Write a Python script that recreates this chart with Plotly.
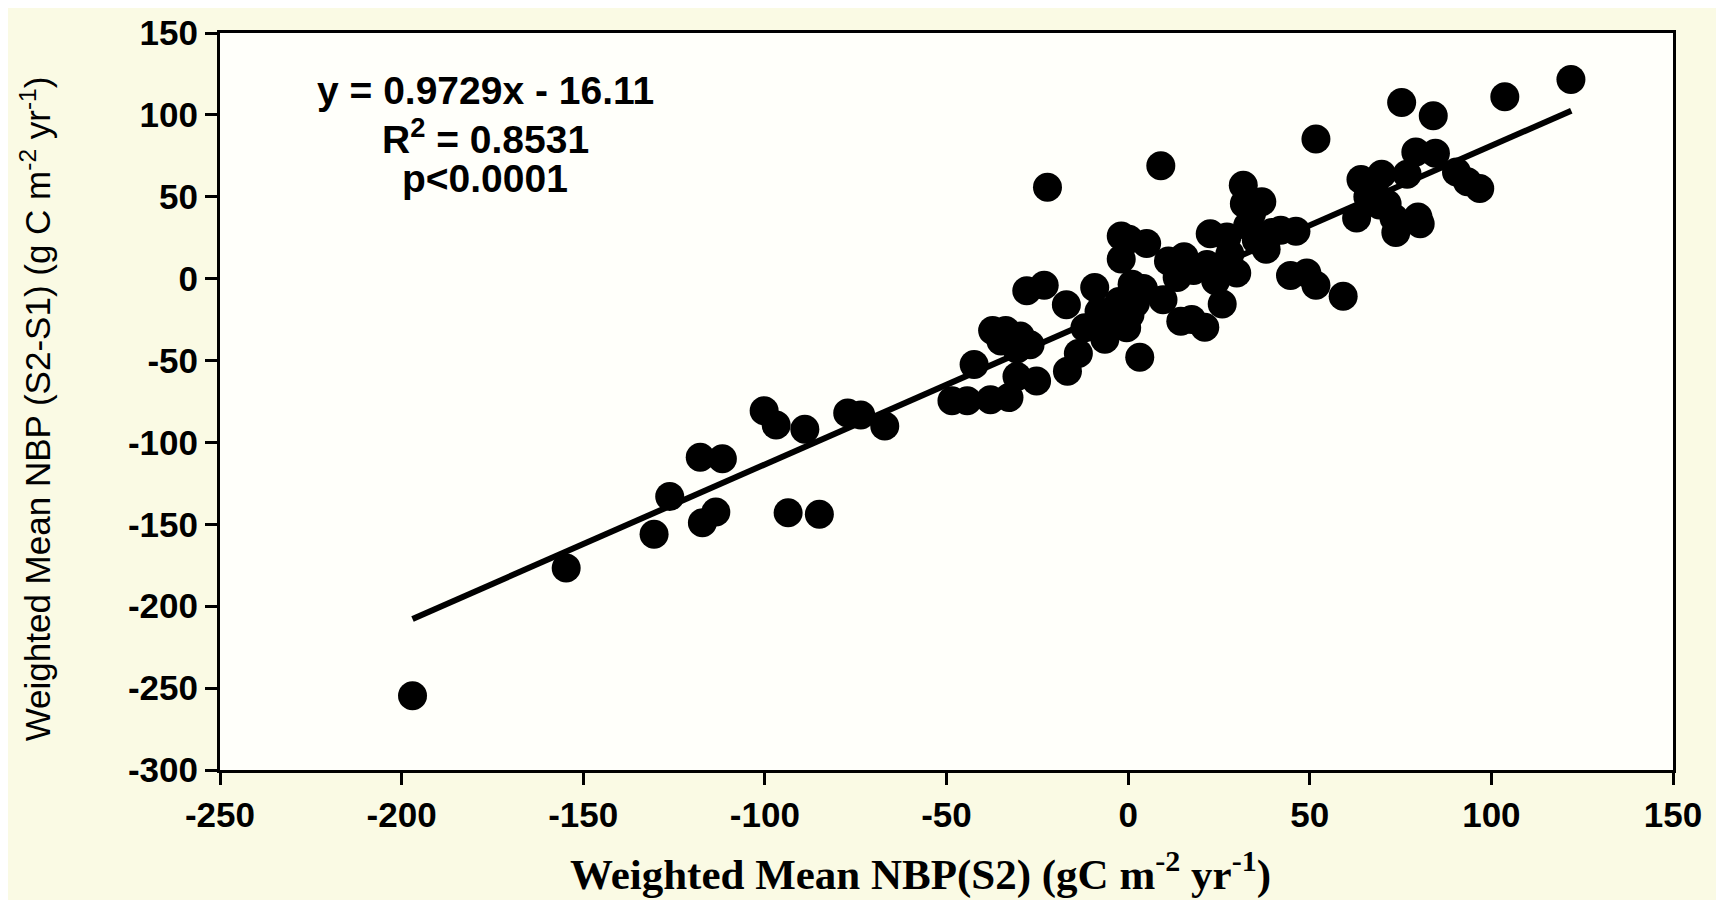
import plotly.graph_objects as go

# Weighted Mean NBP(S2)
nbp_s2 = [-197, -154.7, -130.5, -126.2, -117.8, -111.7, -117.2, -113.5, -100.2, -96.9,
          -93.6, -89, -85, -77.2, -73.6, -67, -48.5, -44.3, -42.4, -37.3,
          -33.7, -37.9, -32.8, -30.6, -30.6, -27, -29.7, -25.2, -27.9, -23.1,
          -22.2, -17, -16.7, -13.7, -11.9, -9.2, -7, -6.4, -4.6, -2.5,
          -1.9, -1.9, 0.2, 1.1, 0.5, -0.4, 3.2, 5.1, 4.2, 9,
          9.6, 11.1, 13.5, 14.5, 15.4, 17.5, 21.1, 21.7, 22.6, 24.1,
          25.9, 25.9, 27.2, 29.9, 31.7, 32, 32.9, 35.3, 36.8, 38,
          39.6, 42, 46.2, 44.7, 49.2, 51.7, 51.7, 59.2, 62.9, 64.1,
          67.7, 69.8, 69.2, 71.3, 73.2, 73.7, 75.3, 76.8, 79.2, 79.8,
          80.4, 84, 84.6, 90.4, 93.4, 96.8, 103.7, 121.9,
          -35, -8, 2, 18, 28, 34, 66]
# Weighted Mean NBP(S2-S1)
nbp_s2_s1 = [-254.7, -176.7, -156, -133, -109, -110, -149, -142.5, -80.6, -89.4,
             -143, -92, -143.8, -82, -83.3, -90, -74.6, -74.6, -52.4, -31.6,
             -31.6, -74, -72.6, -59.8, -43, -40.3, -35, -62.5, -7.4, -4,
             55.8, -16, -56.5, -45.7, -30, -5.4, -21.5, -37, -28, -14,
             26, 12, 24, -3.4, -22, -30, -48, 21.5, -6, 69,
             -12.8, 10.8, 0.7, -26, 13.4, -25, -29.6, 8.7, 27.5, -1.3,
             -15.5, 8, 25.5, 3.4, 57, 45.7, 32.3, 23.5, 47, 18,
             28.2, 29.6, 29, 2, 3.4, 85.3, -4, -10.8, 37, 60.5,
             55.8, 63.8, 45, 45.7, 37, 28.2, 107.5, 63.8, 77.3, 37.6,
             33.6, 99.5, 76.6, 65.2, 59.1, 55.1, 111, 121.6,
             -38, -20, -15, 5, 15, 40, 50]

slope = 0.9729
intercept = -16.11
fit_x = [-197, 122]
fit_y = [slope * v + intercept for v in fit_x]

x_ticks = [-250, -200, -150, -100, -50, 0, 50, 100, 150]
y_ticks = [150, 100, 50, 0, -50, -100, -150, -200, -250, -300]

stats_lines = ["y = 0.9729x - 16.11", "R<sup>2</sup> = 0.8531", "p<0.0001"]
stats_y = [115, 87, 61]

sans = "Liberation Sans, Arial, sans-serif"
serif = "Liberation Serif, Times New Roman, serif"

fig = go.Figure()
fig.add_trace(go.Scatter(
    x=nbp_s2, y=nbp_s2_s1, mode="markers",
    marker=dict(color="black", size=29, line=dict(width=0)),
    showlegend=False, hoverinfo="x+y"))
fig.add_trace(go.Scatter(
    x=fit_x, y=fit_y, mode="lines",
    line=dict(color="black", width=6),
    showlegend=False))

annotations = []
for txt, yy in zip(stats_lines, stats_y):
    annotations.append(dict(
        x=-177, y=yy, xref="x", yref="y", xanchor="center", yanchor="middle",
        text=txt, showarrow=False,
        font=dict(family=sans, size=39, color="black", weight="bold")))
annotations.append(dict(
    x=-0.127, y=0.49, xref="paper", yref="paper", xanchor="center", yanchor="middle",
    textangle=-90, showarrow=False,
    text="Weighted Mean NBP (S2-S1) (g C m<sup>-2</sup> yr<sup>-1</sup>)",
    font=dict(family=sans, size=35, color="black")))
annotations.append(dict(
    x=0.482, y=-0.138, xref="paper", yref="paper", xanchor="center", yanchor="middle",
    showarrow=False,
    text="Weighted Mean NBP(S2) (gC m<sup>-2</sup> yr<sup>-1</sup>)",
    font=dict(family=serif, size=43, color="black", weight="bold")))

fig.update_layout(
    width=1724, height=900,
    margin=dict(l=212, r=59, t=25, b=138, autoexpand=False),
    paper_bgcolor="#fafae4",
    plot_bgcolor="#fffffa",
    xaxis=dict(
        range=[-250, 150], tickvals=x_ticks, ticktext=[str(v) for v in x_ticks],
        showgrid=False, zeroline=False, automargin=False,
        showline=True, linecolor="black", linewidth=3, mirror=True,
        ticks="outside", ticklen=12, tickwidth=3, tickcolor="black",
        tickfont=dict(family=sans, size=35, color="black", weight="bold"),
    ),
    yaxis=dict(
        range=[-300, 150], tickvals=y_ticks, ticktext=[str(v) for v in y_ticks],
        showgrid=False, zeroline=False, automargin=False,
        showline=True, linecolor="black", linewidth=3, mirror=True,
        ticks="outside", ticklen=12, tickwidth=3, tickcolor="black",
        tickfont=dict(family=sans, size=35, color="black", weight="bold"),
    ),
    annotations=annotations,
)

fig.write_html("out.html")
